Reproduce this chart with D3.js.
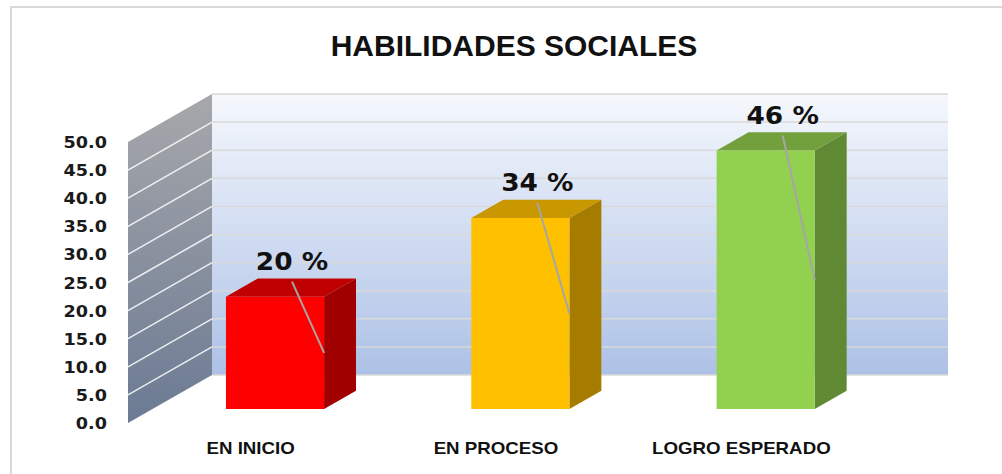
<!DOCTYPE html>
<html>
<head>
<meta charset="utf-8">
<script src="https://cdn.jsdelivr.net/npm/d3@7"></script>
<style>
  body { margin: 0; background: #fff; }
  svg { display: block; }
</style>
</head>
<body>
<svg width="1002" height="474"></svg>
<script>
// datos del grafico
const categories = ["EN INICIO", "EN PROCESO", "LOGRO ESPERADO"];
const values = [20, 34, 46];
const valueLabels = ["20 %", "34 %", "46 %"];
const yTicks = [0, 5, 10, 15, 20, 25, 30, 35, 40, 45, 50];
const chartTitle = "HABILIDADES SOCIALES";

const faceColors = [
  {front: "#ff0000", top: "#c00000", side: "#a00000"},
  {front: "#ffc000", top: "#c99700", side: "#a67c00"},
  {front: "#92d050", top: "#71a03c", side: "#5f8a33"}
];

(function() {

let svg = d3.select("svg");

// profundidad de la pared (vector hacia atras)
let depth = {x: 84, y: -48};

let x = d3.scaleBand()
    .domain(categories)
    .range([128, 864]);

let y = d3.scaleLinear()
    .domain([0, 50])
    .range([423, 142]);

// proyectar un punto del frente a una profundidad t (0..1)
function proj(px, py, t) {
  return [px + t * depth.x, py + t * depth.y];
}

function stretch(sel, k) {
  sel.each(function() {
    let w = this.getComputedTextLength();
    d3.select(this).attr("textLength", w * k).attr("lengthAdjust", "spacingAndGlyphs");
  });
}

// marco
svg.append("rect")
    .attr("x", 11).attr("y", 7)
    .attr("width", 1100).attr("height", 600)
    .attr("fill", "none")
    .attr("stroke", "#d9d9d9")
    .attr("stroke-width", 2);

let defs = svg.append("defs");
let gBack = defs.append("linearGradient").attr("id", "gBack")
    .attr("x1", 0).attr("y1", 0).attr("x2", 0).attr("y2", 1);
gBack.append("stop").attr("offset", "0%").attr("stop-color", "#f5f8fd");
gBack.append("stop").attr("offset", "100%").attr("stop-color", "#adc1e6");

let gSide = defs.append("linearGradient").attr("id", "gSide")
    .attr("x1", 0).attr("y1", 0).attr("x2", 0).attr("y2", 1);
gSide.append("stop").attr("offset", "0%").attr("stop-color", "#a7a8ab");
gSide.append("stop").attr("offset", "100%").attr("stop-color", "#6b7a93");

let x0 = x.range()[0], x1 = x.range()[1];
let yTop = y.range()[1], yBot = y.range()[0];

// pared del fondo
let bl = proj(x0, yBot, 1), tl = proj(x0, yTop, 1), tr = proj(x1, yTop, 1), br = proj(x1, yBot, 1);
svg.append("polygon")
    .attr("points", [bl, tl, tr, br].join(" "))
    .attr("fill", "url(#gBack)");

svg.append("g").selectAll("line")
    .data(yTicks)
    .join("line")
    .attr("x1", d => proj(x0, y(d), 1)[0])
    .attr("x2", d => proj(x1, y(d), 1)[0])
    .attr("y1", d => proj(x0, y(d), 1)[1])
    .attr("y2", d => proj(x1, y(d), 1)[1])
    .attr("stroke", "#d9d9d9")
    .attr("stroke-width", 1.5);

// pared lateral
svg.append("polygon")
    .attr("points", [[x0, yBot], [x0, yTop], tl, bl].join(" "))
    .attr("fill", "url(#gSide)");

svg.append("g").selectAll("line")
    .data(yTicks.filter(d => d > 0 && d < 50))
    .join("line")
    .attr("x1", x0)
    .attr("y1", d => y(d))
    .attr("x2", d => proj(x0, y(d), 1)[0])
    .attr("y2", d => proj(x0, y(d), 1)[1])
    .attr("stroke", "#ffffff")
    .attr("stroke-opacity", 0.85)
    .attr("stroke-width", 1.5);

// eje y
let yLab = svg.append("g").selectAll("text")
    .data(yTicks)
    .join("text")
    .attr("x", 107)
    .attr("y", d => y(d) + 6)
    .attr("text-anchor", "end")
    .attr("font-family", "DejaVu Sans")
    .attr("font-weight", "bold")
    .attr("font-size", 16)
    .attr("fill", "#1a1a1a")
    .text(d => d3.format(".1f")(d));
stretch(yLab, 1.1);

// barras 3D
let t0 = 0.29, t1 = 0.67;
let bw = x.bandwidth() * 0.4;

let bars = svg.append("g").selectAll("g")
    .data(values)
    .join("g");

bars.each(function(v, i) {
  let g = d3.select(this);
  let cx = x(categories[i]) + x.bandwidth() / 2;
  let l = cx - bw / 2, r = cx + bw / 2;
  let fTL = proj(l, y(v), t0), fTR = proj(r, y(v), t0),
      fBR = proj(r, y(0), t0), fBL = proj(l, y(0), t0);
  let bTL = proj(l, y(v), t1), bTR = proj(r, y(v), t1), bBR = proj(r, y(0), t1);
  g.append("polygon").attr("points", [fTR, bTR, bBR, fBR].join(" ")).attr("fill", faceColors[i].side);
  g.append("polygon").attr("points", [fTL, bTL, bTR, fTR].join(" ")).attr("fill", faceColors[i].top);
  g.append("polygon").attr("points", [fTL, fTR, fBR, fBL].join(" ")).attr("fill", faceColors[i].front);

  // etiqueta y linea guia
  let lx = cx + t0 * depth.x + 17;
  let ly = fTL[1] - 27;
  g.append("line")
      .attr("x1", lx).attr("y1", ly + 12)
      .attr("x2", fTR[0]).attr("y2", (fTR[1] + fBR[1]) / 2)
      .attr("stroke", "#a6a6a6")
      .attr("stroke-width", 2);
  let lab = g.append("text")
      .attr("x", lx)
      .attr("y", ly)
      .attr("text-anchor", "middle")
      .attr("font-family", "DejaVu Sans")
      .attr("font-weight", "bold")
      .attr("font-size", 24)
      .attr("fill", "#111")
      .text(valueLabels[i]);
  stretch(lab, 1.1);
});

// categorias
let cat = svg.append("g").selectAll("text")
    .data(categories)
    .join("text")
    .attr("x", d => x(d) + x.bandwidth() / 2)
    .attr("y", 454)
    .attr("text-anchor", "middle")
    .attr("font-family", "Liberation Sans")
    .attr("font-weight", "bold")
    .attr("font-size", 17)
    .attr("fill", "#111")
    .text(d => d);
stretch(cat, 1.1);

// titulo
svg.append("text")
    .attr("x", 514)
    .attr("y", 56)
    .attr("text-anchor", "middle")
    .attr("font-family", "Liberation Sans")
    .attr("font-weight", "bold")
    .attr("font-size", 30)
    .attr("fill", "#111")
    .text(chartTitle);

})();
</script>
</body>
</html>
